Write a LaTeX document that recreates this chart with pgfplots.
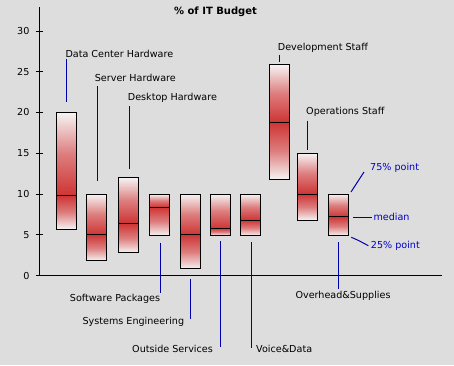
\documentclass[border=0pt]{standalone}
\usepackage{fontspec}
\setmainfont{DejaVu Sans}
\usepackage{pgfplots}
\pgfplotsset{compat=1.18}
\definecolor{bg}{RGB}{221,221,221}
\definecolor{boxred}{RGB}{206,52,52}
\definecolor{boxwhite}{RGB}{246,244,244}
\colorlet{boxmid}{boxred!62!boxwhite}
\definecolor{leader}{RGB}{0,0,170}
\definecolor{annot}{RGB}{0,0,200}
\newcommand\lbl{\fontsize{9.6}{11}\selectfont}
% box: left edge, right edge, 25% point, median, 75% point
\newcommand\bx[5]{%
  \addplot[draw=black, line width=1pt, bottom color=boxwhite, top color=boxred, middle color=boxmid]
    coordinates {(#1,#3) (#2,#3) (#2,#4) (#1,#4)} -- cycle;
  \addplot[draw=black, line width=1pt, bottom color=boxred, top color=boxwhite, middle color=boxmid]
    coordinates {(#1,#4) (#2,#4) (#2,#5) (#1,#5)} -- cycle;
}

\begin{document}
\begin{tikzpicture}
\fill[bg] (0,0) rectangle (454pt,365pt);
\begin{axis}[
  at={(39.3pt,89.5pt)}, anchor=south west,
  scale only axis, width=402.4pt, height=268.95pt,
  xmin=39.3, xmax=441.7, ymin=0, ymax=33,
  axis lines=left, axis line style={-, line width=1pt},
  xtick=\empty, ytick={0,5,...,30},
  tick align=center, major tick length=6.7pt,
  tick style={line width=1pt, black},
  clip=false, no markers,
  /pgf/number format/assume math mode=true,
  tick label style={font=\lbl},
  yticklabel style={xshift=-3pt},
]
\bx{56}{76}{5.7}{9.8}{20}
\bx{86.5}{106.5}{1.8}{5.0}{10}
\bx{118.3}{138.3}{2.8}{6.4}{12}
\bx{149.8}{169.8}{4.9}{8.4}{10}
\bx{180.3}{200.3}{0.8}{5.0}{10}
\bx{210.5}{230.5}{4.9}{5.8}{10}
\bx{240.7}{260.7}{4.9}{6.8}{10}
\bx{269.8}{289.8}{11.8}{18.8}{25.9}
\bx{297.5}{317.5}{6.8}{10.0}{15}
\bx{328.3}{348.3}{4.9}{7.2}{10}

\node[font=\bfseries\fontsize{10}{12}\selectfont] at (axis cs:215.5,32.3) {\% of IT Budget};

\begin{scope}[every node/.style={inner sep=0pt, font=\lbl, text=black}]
\node[anchor=west] at (axis cs:65.3,27.18) {Data Center Hardware};
\node[anchor=west] at (axis cs:94.7,24.2) {Server Hardware};
\node[anchor=west] at (axis cs:127.7,21.74) {Desktop Hardware};
\node[anchor=west] at (axis cs:277.7,27.88) {Development Staff};
\node[anchor=west] at (axis cs:306,20.02) {Operations Staff};
\node[anchor=east] at (axis cs:160.3,-2.88) {Software Packages};
\node[anchor=east] at (axis cs:184.3,-5.74) {Systems Engineering};
\node[anchor=east] at (axis cs:213,-9.02) {Outside Services};
\node[anchor=west] at (axis cs:256,-9.02) {Voice\&Data};
\node[anchor=center] at (axis cs:343,-2.52) {Overhead\&Supplies};
\node[anchor=west, text=annot] at (axis cs:370,13.23) {75\% point};
\node[anchor=west, text=annot] at (axis cs:373.3,7.14) {median};
\node[anchor=west, text=annot] at (axis cs:370.7,3.62) {25\% point};
\end{scope}

\begin{scope}[leader, line width=1pt]
\draw (axis cs:66.3,26.53) -- (axis cs:66.3,21.33);
\draw (axis cs:97.3,23.25) -- (axis cs:97.3,11.56);
\draw (axis cs:129.7,20.8) -- (axis cs:129.7,13.07);
\draw (axis cs:279.7,27.06) -- (axis cs:279.7,26.23);
\draw (axis cs:307.7,18.96) -- (axis cs:307.7,15.4);
\draw (axis cs:160.7,4.02) -- (axis cs:160.7,-2.11);
\draw (axis cs:190.3,-0.43) -- (axis cs:190.3,-5.37);
\draw (axis cs:220.3,4.23) -- (axis cs:220.3,-8.81);
\draw (axis cs:251.3,4.11) -- (axis cs:251.3,-8.93);
\draw (axis cs:338.3,4.11) -- (axis cs:338.3,-1.69);
\draw (axis cs:351,10.25) -- (axis cs:364,12.7);
\draw (axis cs:353.3,7.14) -- (axis cs:371.7,7.14);
\draw (axis cs:351.3,4.69) -- (axis cs:359,4.27) -- (axis cs:368.3,3.66);
\end{scope}
\end{axis}
\end{tikzpicture}
\end{document}
